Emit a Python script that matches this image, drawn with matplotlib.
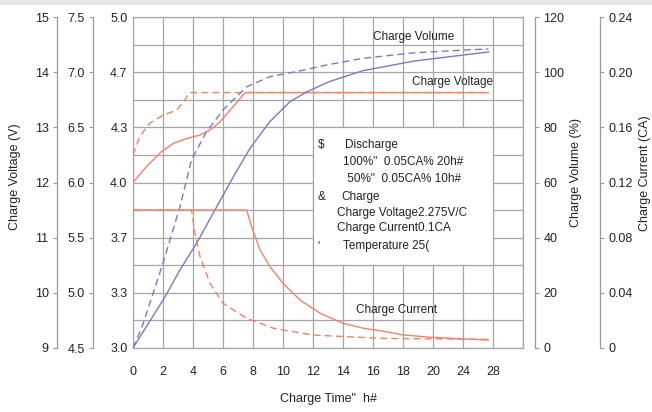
import numpy as np
import matplotlib
matplotlib.use("Agg")
import matplotlib.pyplot as plt
from matplotlib.patches import Rectangle
from matplotlib.ticker import FormatStrFormatter

plt.rcParams['font.family'] = ['Liberation Sans', 'DejaVu Sans']

# charge voltage (12V battery), after 100% discharge / after 50% discharge
volt_full_t = [0, 0.9, 1.9, 2.7, 3.6, 4.47, 5.13, 5.8, 6.47, 7.47, 23.7]
volt_full_v = [12.0, 12.29, 12.56, 12.71, 12.80, 12.86, 12.95, 13.10, 13.31, 13.63, 13.63]
volt_half_t = [0, 0.44, 1.1, 2.0, 2.9, 3.47, 3.76, 23.7]
volt_half_v = [12.5, 12.83, 13.07, 13.22, 13.31, 13.50, 13.63, 13.63]

# charge volume (%)
vol_full_t = [0, 2.13, 3.13, 4.24, 5.58, 6.69, 7.8, 9.13, 10.47, 11.6, 13.1, 15.3,
              18.7, 22.0, 23.7]
vol_full_v = [0, 18.5, 28.3, 38.0, 51.2, 62.1, 72.4, 82.1, 89.3, 92.9, 96.6, 100.5,
              104.0, 106.2, 107.3]
vol_half_t = [0, 0.6, 2.0, 3.13, 3.9, 4.9, 6.0, 7.58, 9.13, 10.9, 12.9, 15.3,
              18.7, 22.0, 23.7]
vol_half_v = [0, 7.6, 30.8, 51.2, 68.2, 78.4, 86.3, 94.7, 98.4, 100.2, 102.6, 105.0,
              107.0, 108.0, 108.4]

# charge current (CA)
cur_full_t = [0, 7.58, 7.9, 8.47, 9.13, 10.0, 11.13, 12.47, 14.0, 15.36, 16.5, 18.0,
              19.8, 22.0, 23.7]
cur_full_i = [0.1, 0.1, 0.088, 0.0711, 0.059, 0.0469, 0.0348, 0.0252, 0.0179, 0.0143,
              0.0125, 0.0095, 0.0078, 0.0066, 0.0058]
cur_half_t = [0, 3.9, 4.13, 4.47, 5.13, 6.0, 7.58, 9.36, 12.0, 16.5, 23.7]
cur_half_i = [0.1, 0.1, 0.0832, 0.0662, 0.0469, 0.0324, 0.0215, 0.0143, 0.0094,
              0.007, 0.0062]

time_ticks = [0, 2, 4, 6, 8, 10, 12, 14, 16, 18, 20, 22, 24]
time_labels = ['0', '2', '4', '6', '8', '10', '12', '14', '16', '18', '20', '24', '28']

orange = '#f2836a'
blue = '#7a78c6'
grid_c = '#a6a6a6'
spine_c = '#9a9a9a'
txt_c = '#222222'

fig = plt.figure(figsize=(6.52, 4.12), dpi=100)
fig.patches.append(Rectangle((0, 1 - 5 / 412), 1, 5 / 412, transform=fig.transFigure,
                             facecolor='#e6e6e6', edgecolor='none'))

ax = fig.add_axes([133 / 652, 1 - 348 / 412, 390 / 652, 331 / 412])
ax.set_xlim(0, 26)
ax.set_ylim(3.0, 5.0)
ax.set_yticks([3 + k / 3 for k in range(7)])
ax.set_yticks([3 + k / 6 for k in range(13)], minor=True)
ax.yaxis.set_major_formatter(FormatStrFormatter('%.1f'))
ax.set_xticks(time_ticks)
ax.set_xticklabels(time_labels)
ax.set_xticks([26], minor=True)
ax.set_axisbelow(True)
ax.grid(True, which='both', color=grid_c, linewidth=0.9)
ax.tick_params(axis='x', which='both', length=0, pad=13, labelsize=9, colors=txt_c)
ax.tick_params(axis='y', which='both', length=0, pad=4, labelsize=9, colors=txt_c)
for s in ax.spines.values():
    s.set_color(grid_c)
    s.set_linewidth(0.9)
ax.set_xlabel('Charge Time"  h#', fontsize=9, color=txt_c, labelpad=11)

# white note box sitting on the grid
ax.add_patch(Rectangle((12, 3.5), 12, 5 / 6, facecolor='white', edgecolor=grid_c,
                       linewidth=0.9, zorder=1))


def side_axis(pos, side, lims, ticks, fmt):
    a = ax.twinx()
    a.set_ylim(*lims)
    a.set_yticks(ticks)
    a.yaxis.set_major_formatter(FormatStrFormatter(fmt))
    for name, s in a.spines.items():
        s.set_visible(name == side)
    a.spines[side].set_position(('axes', pos))
    a.spines[side].set_color(spine_c)
    a.spines[side].set_linewidth(0.9)
    a.yaxis.set_ticks_position(side)
    a.yaxis.set_label_position(side)
    a.tick_params(axis='y', length=3, width=0.8, color=spine_c, pad=3,
                  labelsize=9, labelcolor=txt_c)
    return a


ax_v12 = side_axis(-0.195, 'left', (9, 15), np.arange(9, 16, 1), '%d')
ax_v6 = side_axis(-0.1026, 'left', (4.5, 7.5), np.arange(4.5, 7.6, 0.5), '%.1f')
ax_vol = side_axis(1.0308, 'right', (0, 120), np.arange(0, 121, 20), '%d')
ax_cur = side_axis(1.197, 'right', (0, 0.24), np.arange(0, 0.241, 0.04), '%.2f')
ax_cur.set_yticklabels(['0'] + ['%.2f' % v for v in np.arange(0.04, 0.241, 0.04)])

dash = (0, (5, 3))
line_kw = dict(lw=1.0, solid_joinstyle='round', dash_joinstyle='round')
ax_v12.plot(volt_half_t, volt_half_v, color=orange, ls=dash, **line_kw)
ax_v12.plot(volt_full_t, volt_full_v, color=orange, **line_kw)
ax_vol.plot(vol_half_t, vol_half_v, color=blue, ls=dash, **line_kw)
ax_vol.plot(vol_full_t, vol_full_v, color=blue, **line_kw)
ax_cur.plot(cur_half_t, cur_half_i, color=orange, ls=dash, **line_kw)
ax_cur.plot(cur_full_t, cur_full_i, color=orange, **line_kw)

# curve names and charging notes, placed in volume units
tk = dict(fontsize=8.5, color=txt_c, va='center', ha='left')
ax_vol.text(16.0, 112.8, 'Charge Volume', **tk)
ax_vol.text(18.6, 96.4, 'Charge Voltage', **tk)
ax_vol.text(14.9, 13.8, 'Charge Current', **tk)

ax_vol.text(12.3, 73.6, '$', **tk)
ax_vol.text(14.1, 73.6, 'Discharge', **tk)
ax_vol.text(14.0, 67.4, '100%"  0.05CA% 20h#', **tk)
ax_vol.text(14.1, 61.3, ' 50%"  0.05CA% 10h#', **tk)
ax_vol.text(12.3, 54.8, '&', **tk)
ax_vol.text(13.9, 54.8, 'Charge', **tk)
ax_vol.text(13.6, 48.9, 'Charge Voltage2.275V/C', **tk)
ax_vol.text(13.6, 43.5, 'Charge Current0.1CA', **tk)
ax_vol.text(12.3, 37.0, "'", **tk)
ax_vol.text(14.0, 37.0, 'Temperature 25(', **tk)

fig.text(15 / 652, 1 - 177 / 412, 'Charge Voltage (V)', rotation=90, ha='center',
         va='center', fontsize=9, color=txt_c)
fig.text(576 / 652, 1 - 173 / 412, 'Charge Volume (%)', rotation=90, ha='center',
         va='center', fontsize=9, color=txt_c)
fig.text(645 / 652, 1 - 173 / 412, 'Charge Current (CA)', rotation=90, ha='center',
         va='center', fontsize=9, color=txt_c)

fig.savefig('out.png', dpi=100)
